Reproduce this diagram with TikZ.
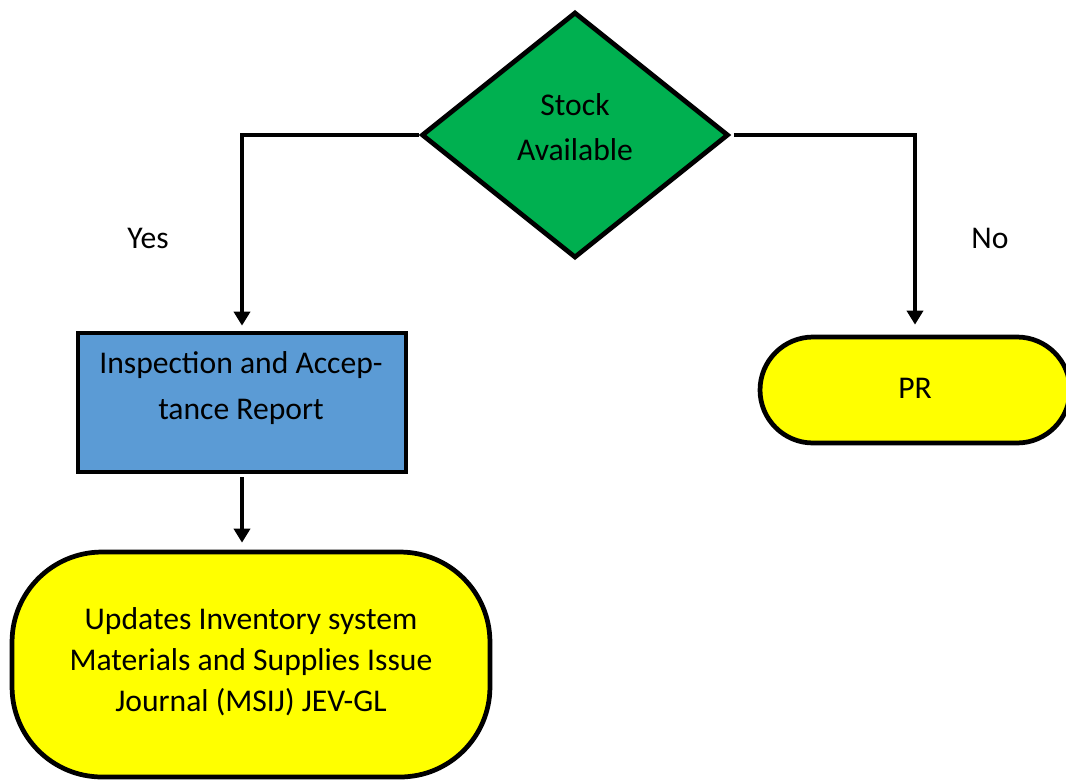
\documentclass[tikz,border=0pt]{standalone}
\usepackage{fontspec}
\setmainfont{Carlito}
\usepackage{tikz}
\usetikzlibrary{arrows.meta,shapes.geometric}
\usepackage{xcolor}
\definecolor{decgreen}{HTML}{00B050}
\definecolor{procblue}{HTML}{5B9BD5}
\definecolor{termyellow}{HTML}{FFFF00}
\tikzset{
  decision/.style={draw, diamond, fill=decgreen, line width=2.7pt, inner sep=0pt,
    minimum width=6.14cm, minimum height=4.92cm},
  procbox/.style={draw, fill=procblue, line width=2.7pt,
    minimum width=6.56cm, minimum height=2.78cm},
  term/.style={draw, fill=termyellow, line width=2.7pt, inner sep=0pt},
  conn/.style={line width=2.4pt, -{Triangle[width=0.32cm,length=0.28cm]}},
  lab/.style={font=\fontsize{18}{26}\selectfont, align=center},
  labtight/.style={font=\fontsize{18}{23.3}\selectfont, align=center}
}

\begin{document}
\begin{tikzpicture}[x=0.02cm,y=-0.02cm]
\useasboundingbox (0,0) rectangle (1066,779);

% Decision
\node[decision] (stock) at (575,135) {};
\node[lab] (stocktext) at (575,127) {Stock\\Available};

% Yes branch
\node[procbox] (iar) at (242,402.5) {};
\node[lab] (iartext) at (241,388) {Inspection and Accep-\\tance Report};
\node[term, rounded corners=1.8cm, minimum width=9.56cm, minimum height=4.5cm] (upd) at (251,664.5) {};
\node[labtight] (updtext) at (251,662) {Updates Inventory system\\Materials and Supplies Issue\\Journal (MSIJ) JEV-GL};

% No branch
\node[term, rounded corners=1.06cm, minimum width=6.2cm, minimum height=2.12cm] (pr) at (915,390) {};
\node[lab] (prtext) at (915,388) {PR};

% Connectors
\draw[conn, shorten >=0.1cm] (stock.west) -| (iar.north);
\draw[conn, shorten >=0.2cm, shorten <=0.06cm] (stock.east) -| (pr.north);
\draw[conn, shorten <=0.06cm, shorten >=0.14cm] (iar.south) -- (iar.south |- upd.north);

% Branch labels
\node[lab] (yes) at (148,238) {Yes};
\node[lab] (no) at (990,238) {No};
\end{tikzpicture}
\end{document}
